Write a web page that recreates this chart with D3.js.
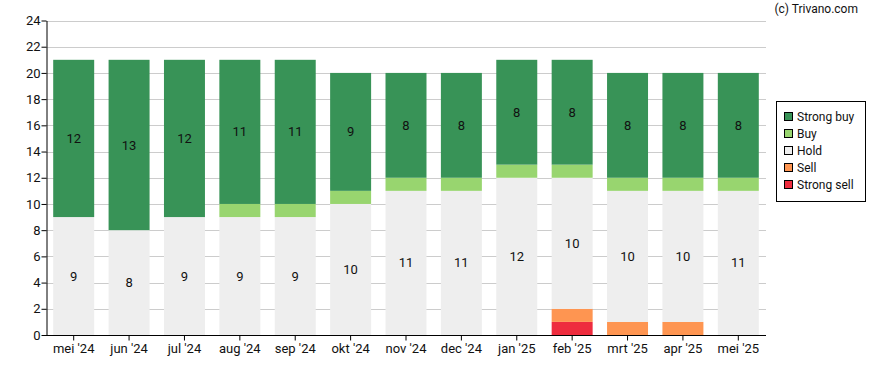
<!DOCTYPE html>
<html>
<head>
<meta charset="utf-8">
<script src="https://cdn.jsdelivr.net/npm/d3@7"></script>
<style>
  body { margin: 0; background: #fff; }
  text { font-family: Roboto, "Noto Sans", sans-serif; fill: #111; }
</style>
</head>
<body>
<div id="chart"></div>
<script>
'use strict';

const months = ["mei '24", "jun '24", "jul '24", "aug '24", "sep '24", "okt '24", "nov '24", "dec '24", "jan '25", "feb '25", "mrt '25", "apr '25", "mei '25"];
const strongSell = [0, 0, 0, 0, 0, 0, 0, 0, 0, 1, 0, 0, 0];
const sell       = [0, 0, 0, 0, 0, 0, 0, 0, 0, 1, 1, 1, 0];
const hold       = [9, 8, 9, 9, 9, 10, 11, 11, 12, 10, 10, 10, 11];
const buy        = [0, 0, 0, 1, 1, 1, 1, 1, 1, 1, 1, 1, 1];
const strongBuy  = [12, 13, 12, 11, 11, 9, 8, 8, 8, 8, 8, 8, 8];
const yTicks = [0, 2, 4, 6, 8, 10, 12, 14, 16, 18, 20, 22, 24];

const series = [
    { key: 'Strong sell', values: strongSell, colour: '#ee2c3e' },
    { key: 'Sell', values: sell, colour: '#fe9551' },
    { key: 'Hold', values: hold, colour: '#eeeeee' },
    { key: 'Buy', values: buy, colour: '#98d56f' },
    { key: 'Strong buy', values: strongBuy, colour: '#389357' }
];

let Charts = function charts() {

    let svg = null;
    let layers = {};
    let xScale;
    let yScale;

    let config = {
        width: 888,
        height: 370,
        margin: { top: 20.5, bottom: 35, left: 46, right: 122 }
    };

    let renderSVG = function renderSVG(element) {
        svg = d3.select(element)
            .append('svg')
            .attr('width', config.width)
            .attr('height', config.height);
    };

    let renderLayers = function renderLayers() {
        layers.grid = svg.append('g').attr('class', 'grid');
        layers.bars = svg.append('g').attr('class', 'bars');
        layers.labels = svg.append('g').attr('class', 'labels');
        layers.axis = svg.append('g').attr('class', 'axis');
        layers.legend = svg.append('g').attr('class', 'legend');
    };

    let setScale = function setScale() {
        xScale = d3.scaleBand()
            .domain(months)
            .range([config.margin.left, config.width - config.margin.right])
            .paddingInner(0.26)
            .paddingOuter(0.13);

        yScale = d3.scaleLinear()
            .domain([0, 24])
            .range([config.height - config.margin.bottom, config.margin.top]);
    };

    let renderGrid = function renderGrid() {
        layers.grid.selectAll('line')
            .data(yTicks.slice(1))
            .enter()
            .append('line')
            .attr('x1', config.margin.left)
            .attr('x2', config.width - config.margin.right)
            .attr('y1', d => Math.round(yScale(d)) + 0.5)
            .attr('y2', d => Math.round(yScale(d)) + 0.5)
            .attr('stroke', '#cccccc')
            .attr('stroke-width', 1);
    };

    let renderYAxis = function renderYAxis() {
        let axis = d3.axisLeft(yScale).tickValues(yTicks).tickSize(5).tickSizeOuter(0);
        let g = layers.axis.append('g')
            .attr('transform', 'translate(' + (config.margin.left + 0.5) + ',0)')
            .call(axis);
        g.select('.domain').attr('stroke', '#000');
        g.selectAll('.tick line').attr('stroke', '#000');
        g.selectAll('.tick text').attr('font-size', 13).attr('x', -6).attr('fill', '#111');
    };

    let renderXAxis = function renderXAxis() {
        let axis = d3.axisBottom(xScale).tickSize(5).tickSizeOuter(0);
        let g = layers.axis.append('g')
            .attr('transform', 'translate(0,' + (yScale(0) + 0.5) + ')')
            .call(axis);
        g.select('.domain')
            .attr('d', 'M' + config.margin.left + ',0H' + (config.width - config.margin.right))
            .attr('stroke', '#000');
        g.selectAll('.tick line').attr('stroke', '#000');
        g.selectAll('.tick text').attr('font-size', 13).attr('y', 8).attr('fill', '#111');
    };

    let drawBars = function drawBars() {
        let rows = months.map((m, i) => {
            let r = { month: m };
            series.forEach(s => { r[s.key] = s.values[i]; });
            return r;
        });
        let stack = d3.stack().keys(series.map(s => s.key))(rows);

        stack.forEach((layer, li) => {
            layers.bars.selectAll('.bar-' + li)
                .data(layer.filter(d => d[1] > d[0]))
                .enter()
                .append('rect')
                .attr('x', d => xScale(d.data.month))
                .attr('width', xScale.bandwidth())
                .attr('y', d => yScale(d[1]))
                .attr('height', d => yScale(d[0]) - yScale(d[1]))
                .attr('fill', series[li].colour);

            layers.labels.selectAll('.lab-' + li)
                .data(layer.filter(d => d[1] - d[0] >= 3))
                .enter()
                .append('text')
                .attr('x', d => xScale(d.data.month) + xScale.bandwidth() / 2)
                .attr('y', d => yScale((d[0] + d[1]) / 2))
                .attr('dy', '0.35em')
                .attr('text-anchor', 'middle')
                .attr('font-size', 13)
                .text(d => d[1] - d[0]);
        });
    };

    let drawLegend = function drawLegend() {
        let x0 = 776, y0 = 101;
        layers.legend.append('rect')
            .attr('x', x0 + 0.5).attr('y', y0 + 0.5)
            .attr('width', 89).attr('height', 100)
            .attr('fill', '#fff').attr('stroke', '#000');

        let items = series.slice().reverse();
        let g = layers.legend.selectAll('.item')
            .data(items)
            .enter()
            .append('g')
            .attr('transform', (d, i) => 'translate(' + (x0 + 8) + ',' + (y0 + 16 + i * 17) + ')');
        g.append('rect')
            .attr('x', 0.5).attr('y', -4.5)
            .attr('width', 8).attr('height', 8)
            .attr('fill', d => d.colour)
            .attr('stroke', '#000');
        g.append('text')
            .attr('x', 13).attr('dy', '0.35em')
            .attr('font-size', 12)
            .text(d => d.key);
    };

    let drawCredit = function drawCredit() {
        svg.append('text')
            .attr('x', 858).attr('y', 13)
            .attr('text-anchor', 'end')
            .attr('font-size', 12)
            .text('(c) Trivano.com');
    };

    let draw = function draw(el) {
        renderSVG(el);
        renderLayers();
        setScale();
        renderGrid();
        drawBars();
        renderYAxis();
        renderXAxis();
        drawLegend();
        drawCredit();
    };

    return { draw: draw };
};

Charts().draw('#chart');
</script>
</body>
</html>
